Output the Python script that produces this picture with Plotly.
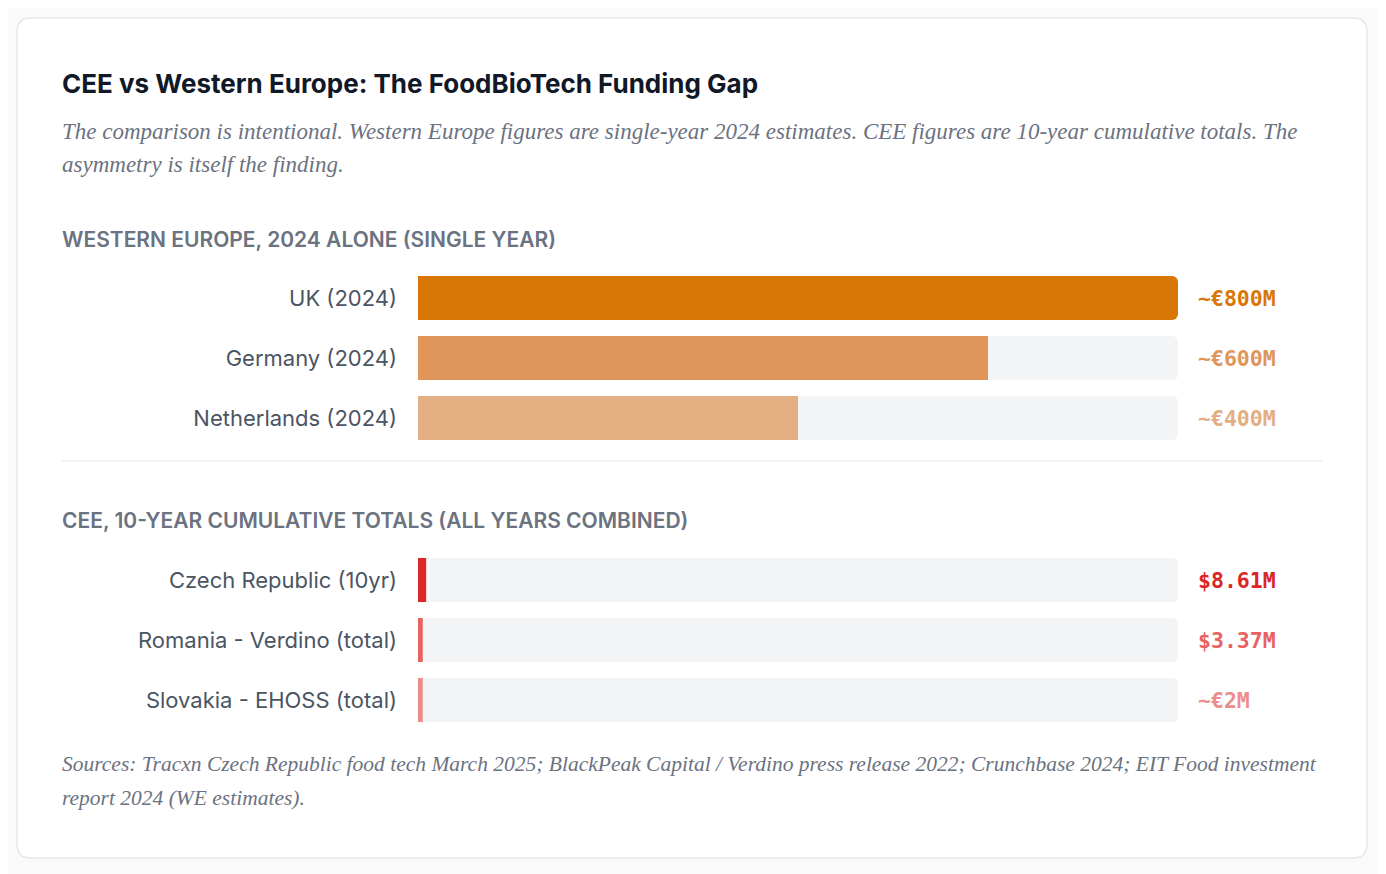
import plotly.graph_objects as go
from plotly.subplots import make_subplots

# ---- data ----
we_labels = ["UK (2024)", "Germany (2024)", "Netherlands (2024)"]
we_values = [800, 600, 400]  # EUR millions, single year
we_text = ["~€800M", "~€600M", "~€400M"]
we_colors = ["#d97706", "#e0955a", "#e3ae81"]

cee_labels = ["Czech Republic (10yr)", "Romania - Verdino (total)", "Slovakia - EHOSS (total)"]
cee_values = [8.61, 3.37, 2]  # millions, cumulative
cee_text = ["$8.61M", "$3.37M", "~€2M"]
cee_colors = ["#dc2626", "#e86262", "#ec8d8d"]

scale_max = 800
min_visible = 5  # keep tiny bars visible, like a css min-width

# page body has an 8px margin, so the figure is a bit smaller and shifted
OFF = 8
W, H = 1386 - OFF, 874 - OFF


def px(x, y):
    return (x - OFF) / W, 1 - (y - OFF) / H


def rounded_rect(x0, y0, x1, y1, r):
    # path in paper units built from pixel coordinates
    def p(x, y):
        a, b = px(x, y)
        return f"{a:.5f},{b:.5f}"
    pts = [
        f"M{p(x0 + r, y0)}",
        f"L{p(x1 - r, y0)}",
        f"Q{p(x1, y0)} {p(x1, y0 + r)}",
        f"L{p(x1, y1 - r)}",
        f"Q{p(x1, y1)} {p(x1 - r, y1)}",
        f"L{p(x0 + r, y1)}",
        f"Q{p(x0, y1)} {p(x0, y1 - r)}",
        f"L{p(x0, y0 + r)}",
        f"Q{p(x0, y0)} {p(x0 + r, y0)}",
    ]
    return " ".join(pts) + " Z"


fig = make_subplots(rows=2, cols=1)

sections = [
    (we_labels, we_values, we_text, we_colors, 1),
    (cee_labels, cee_values, cee_text, cee_colors, 2),
]

for labels, values, texts, colors, row in sections:
    # grey track
    fig.add_trace(
        go.Bar(
            y=labels,
            x=[scale_max] * len(labels),
            orientation="h",
            marker=dict(color="#f3f4f6", line=dict(width=0)),
            hoverinfo="skip",
            showlegend=False,
        ),
        row=row,
        col=1,
    )
    fig.add_trace(
        go.Bar(
            y=labels,
            x=[max(v, min_visible) for v in values],
            orientation="h",
            marker=dict(color=colors, line=dict(width=0)),
            customdata=values,
            hovertemplate="%{y}: %{customdata}M<extra></extra>",
            showlegend=False,
        ),
        row=row,
        col=1,
    )
    xref = "x" if row == 1 else "x2"
    yref = "y" if row == 1 else "y2"
    for lab, t, c in zip(labels, texts, colors):
        fig.add_annotation(
            x=scale_max, y=lab, xref=xref, yref=yref,
            text=f"<b>{t}</b>", showarrow=False,
            xanchor="left", xshift=18,
            font=dict(family="DejaVu Sans Mono", size=21.5, color=c),
        )

fig.update_xaxes(range=[0, scale_max], domain=[px(418, 0)[0], px(1178, 0)[0]],
                 visible=False, fixedrange=True)
fig.update_yaxes(
    range=[2.5, -0.5],
    showgrid=False, zeroline=False, showline=False,
    ticks="", ticklabelstandoff=20,
    tickfont=dict(family="Inter", size=22, color="#4b5563"),
    fixedrange=True,
)
fig.update_yaxes(domain=[px(0, 448)[1], px(0, 268)[1]], row=1, col=1)
fig.update_yaxes(domain=[px(0, 730)[1], px(0, 550)[1]], row=2, col=1)

sans = "Inter"
serif = "Liberation Serif"


def note(x, y, text, size, color, family, weight="normal", italic=False):
    a, b = px(x, y)
    fig.add_annotation(
        x=a, y=b, xref="paper", yref="paper", text=text, showarrow=False,
        xanchor="left", yanchor="middle", xshift=-2,
        font=dict(family=family, size=size, color=color, weight=weight,
                  style="italic" if italic else "normal"),
    )


note(62, 84, "CEE vs Western Europe: The FoodBioTech Funding Gap", 26, "#111827", sans, weight="bold")
note(62, 131, "The comparison is intentional. Western Europe figures are single-year 2024 estimates. "
     "CEE figures are 10-year cumulative totals. The", 23, "#6b7280", serif, italic=True)
note(62, 164, "asymmetry is itself the finding.", 23, "#6b7280", serif, italic=True)
note(62, 239, "WESTERN EUROPE, 2024 ALONE (SINGLE YEAR)", 21, "#6b7280", sans, weight=600)
note(62, 520, "CEE, 10-YEAR CUMULATIVE TOTALS (ALL YEARS COMBINED)", 21, "#6b7280", sans, weight=600)
note(62, 764, "Sources: Tracxn Czech Republic food tech March 2025; BlackPeak Capital / Verdino press "
     "release 2022; Crunchbase 2024; EIT Food investment", 21.5, "#6b7280", serif, italic=True)
note(62, 798, "report 2024 (WE estimates).", 21.5, "#6b7280", serif, italic=True)

# card + divider
d0, d1 = px(62, 461), px(1322, 461)
fig.update_layout(
    shapes=[
        dict(type="path", path=rounded_rect(17, 18, 1367, 858, 14), xref="paper", yref="paper",
             fillcolor="#ffffff", line=dict(color="#e5e7eb", width=1.5), layer="below"),
        dict(type="line", x0=d0[0], x1=d1[0], y0=d0[1], y1=d1[1], xref="paper", yref="paper",
             line=dict(color="#eeeeee", width=1.5)),
    ]
)

fig.update_layout(
    width=W,
    height=H,
    margin=dict(l=0, r=0, t=0, b=0),
    paper_bgcolor="#fafafa",
    plot_bgcolor="rgba(0,0,0,0)",
    barmode="overlay",
    bargap=16 / 60,
    barcornerradius=6,
    showlegend=False,
)

fig.write_html("out.html")
